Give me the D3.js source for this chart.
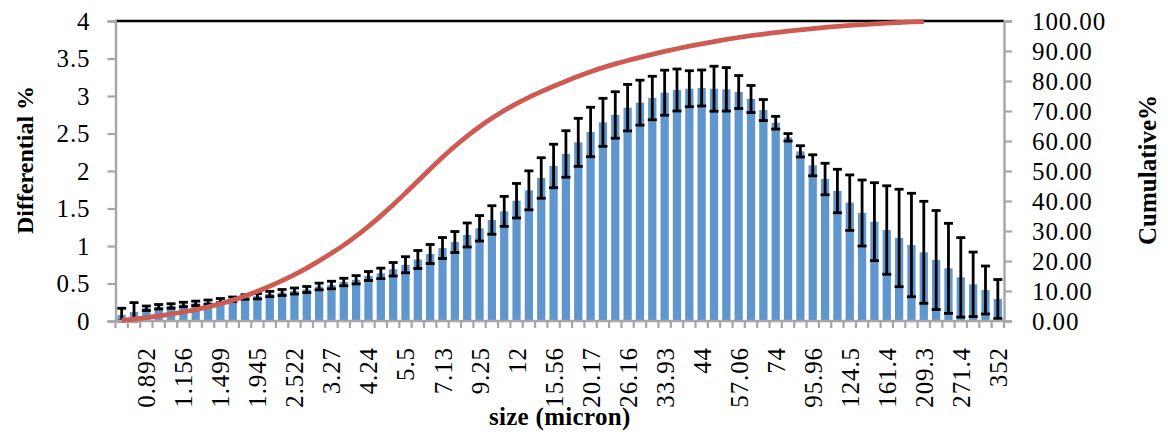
<!DOCTYPE html>
<html>
<head>
<meta charset="utf-8">
<script src="https://cdn.jsdelivr.net/npm/d3@7"></script>
<style>
  html, body { margin: 0; padding: 0; background: #fff; }
  svg { display: block; }
  text { font-family: "Liberation Serif", "DejaVu Serif", serif; fill: #000; }
</style>
</head>
<body>
<svg id="chart" width="1168" height="445"></svg>
<script>
// Size classes shown on the axis (one label every third size class)
const sizeLabels = ["0.892", "1.156", "1.499", "1.945", "2.522", "3.27", "4.24", "5.5",
  "7.13", "9.25", "12", "15.56", "20.17", "26.16", "33.93", "44", "57.06", "74",
  "95.96", "124.5", "161.4", "209.3", "271.4", "352"];
const labelEvery = 3;
const firstLabelIndex = 2;

// Differential volume % per size class
const differential = [
  0.08, 0.12, 0.17, 0.19, 0.20, 0.22, 0.235, 0.25, 0.27, 0.29,
  0.32, 0.33, 0.36, 0.38, 0.40, 0.42, 0.46, 0.48, 0.52, 0.55,
  0.60, 0.635, 0.69, 0.75, 0.82, 0.893, 0.973, 1.053, 1.147, 1.236,
  1.347, 1.462, 1.604, 1.742, 1.907, 2.067, 2.227, 2.382, 2.52, 2.649,
  2.747, 2.844, 2.911, 2.973, 3.044, 3.08, 3.097, 3.107, 3.097, 3.089,
  3.053, 2.96, 2.813, 2.644, 2.449, 2.262, 2.076, 1.893, 1.733, 1.578,
  1.44, 1.324, 1.213, 1.107, 1.013, 0.916, 0.813, 0.702, 0.582, 0.489,
  0.413, 0.293];

// Standard deviation (error bar half-length) per size class
const deviation = [
  0.09, 0.125, 0.03, 0.03, 0.03, 0.03, 0.03, 0.03, 0.03, 0.03,
  0.03, 0.035, 0.035, 0.04, 0.04, 0.04, 0.045, 0.05, 0.05, 0.055,
  0.06, 0.07, 0.09, 0.107, 0.12, 0.127, 0.14, 0.14, 0.16, 0.17,
  0.19, 0.20, 0.23, 0.26, 0.27, 0.29, 0.31, 0.32, 0.33, 0.32,
  0.31, 0.31, 0.30, 0.29, 0.30, 0.28, 0.24, 0.24, 0.30, 0.29,
  0.22, 0.18, 0.14, 0.085, 0.05, 0.075, 0.14, 0.21, 0.29, 0.37,
  0.44, 0.52, 0.59, 0.65, 0.69, 0.68, 0.66, 0.60, 0.53, 0.43,
  0.32, 0.26];

// Cumulative volume % (the series stops once it has levelled off at the top)
const cumulative = [
  0.2, 0.65, 1.15, 1.7, 2.3, 3.0, 3.8, 4.7, 5.75, 6.95,
  8.35, 9.9, 11.6, 13.45, 15.45, 17.65, 20.05, 22.55, 25.3, 28.3,
  31.55, 35.05, 38.75, 42.65, 46.65, 50.65, 54.55, 58.25, 61.65, 64.75,
  67.55, 70.15, 72.45, 74.55, 76.45, 78.25, 79.95, 81.55, 83.05, 84.45,
  85.7, 86.85, 87.9, 88.9, 89.85, 90.75, 91.6, 92.4, 93.15, 93.85,
  94.5, 95.1, 95.65, 96.15, 96.62, 97.06, 97.47, 97.85, 98.2, 98.52,
  98.81, 99.07, 99.3, 99.5, 99.68, 99.8];

const leftTicks = [0, 0.5, 1, 1.5, 2, 2.5, 3, 3.5, 4];
const rightTicks = [0, 10, 20, 30, 40, 50, 60, 70, 80, 90, 100];

const svg = d3.select("#chart");
const plot = { left: 115.5, right: 1004, top: 21, bottom: 321 };

const categories = d3.range(differential.length);
const gap = 0.33;
const x = d3.scaleBand()
  .domain(categories)
  .range([plot.left, plot.right])
  .paddingInner(gap)
  .paddingOuter(gap / 2);
const step = x.step();
const cx = i => x(i) + x.bandwidth() / 2;

const yL = d3.scaleLinear().domain([0, 4]).range([plot.bottom, plot.top]);
const yR = d3.scaleLinear().domain([0, 100]).range([plot.bottom, plot.top]);

const axisGrey = "#a6a6a6";
const fontSize = 25;
const tickSpacing = "0.9px";

// Bars
svg.append("g").selectAll("rect")
  .data(differential)
  .join("rect")
  .attr("x", (d, i) => x(i))
  .attr("width", x.bandwidth())
  .attr("y", d => yL(d))
  .attr("height", d => yL(0) - yL(d))
  .attr("fill", "#6096ce");

// Error bars
const eb = svg.append("g").attr("stroke", "#000").attr("stroke-width", 2.8);
differential.forEach((d, i) => {
  const lo = Math.max(0, d - deviation[i]);
  const hi = d + deviation[i];
  const c = cx(i);
  eb.append("line").attr("x1", c).attr("x2", c).attr("y1", yL(lo)).attr("y2", yL(hi));
  eb.append("line").attr("x1", c - 4.5).attr("x2", c + 4.5).attr("y1", yL(lo)).attr("y2", yL(lo));
  eb.append("line").attr("x1", c - 4.5).attr("x2", c + 4.5).attr("y1", yL(hi)).attr("y2", yL(hi));
});

// Top border line of the plot
svg.append("line")
  .attr("x1", plot.left).attr("x2", plot.right)
  .attr("y1", yL(4)).attr("y2", yL(4))
  .attr("stroke", "#000").attr("stroke-width", 2.4);

// Left axis
const gL = svg.append("g").attr("transform", `translate(${plot.left},0)`)
  .call(d3.axisLeft(yL).tickValues(leftTicks).tickSize(8).tickPadding(17)
    .tickFormat(d => d3.format("")(d)));
gL.select(".domain").attr("stroke", axisGrey).attr("stroke-width", 2.4);
gL.selectAll(".tick line").attr("stroke", axisGrey).attr("stroke-width", 2.2);
gL.selectAll("text").attr("font-size", fontSize).attr("font-family", "Liberation Serif")
  .attr("letter-spacing", tickSpacing);

// Right axis
const gR = svg.append("g").attr("transform", `translate(${plot.right},0)`)
  .call(d3.axisRight(yR).tickValues(rightTicks).tickSize(8).tickPadding(20)
    .tickFormat(d3.format(".2f")));
gR.select(".domain").attr("stroke", axisGrey).attr("stroke-width", 2.4);
gR.selectAll(".tick line").attr("stroke", axisGrey).attr("stroke-width", 2.2);
gR.selectAll("text").attr("font-size", fontSize).attr("font-family", "Liberation Serif")
  .attr("letter-spacing", tickSpacing);

// Bottom axis: line, ticks at class boundaries, rotated labels every third class
const gB = svg.append("g");
gB.append("line")
  .attr("x1", plot.left - 1).attr("x2", plot.right + 1)
  .attr("y1", plot.bottom).attr("y2", plot.bottom)
  .attr("stroke", axisGrey).attr("stroke-width", 2.4);
gB.selectAll("line.tk")
  .data(d3.range(differential.length + 1))
  .join("line")
  .attr("class", "tk")
  .attr("x1", i => plot.left + i * step).attr("x2", i => plot.left + i * step)
  .attr("y1", plot.bottom).attr("y2", plot.bottom + 7)
  .attr("stroke", axisGrey).attr("stroke-width", 2.2);
gB.selectAll("text")
  .data(sizeLabels)
  .join("text")
  .attr("transform", (d, k) => `translate(${cx(firstLabelIndex + k * labelEvery)},347) rotate(-90)`)
  .attr("text-anchor", "end")
  .attr("dy", "0.36em")
  .attr("font-size", fontSize)
  .attr("letter-spacing", tickSpacing)
  .text(d => d);

// Cumulative curve on the right axis
const line = d3.line()
  .x((d, i) => cx(i))
  .y(d => yR(d))
  .curve(d3.curveMonotoneX);
svg.append("path")
  .datum(cumulative)
  .attr("d", line)
  .attr("fill", "none")
  .attr("stroke", "#cd5b54")
  .attr("stroke-width", 4.8);

// Axis titles
svg.append("text")
  .attr("transform", "translate(25,160) rotate(-90)")
  .attr("text-anchor", "middle").attr("dy", "0.35em")
  .attr("font-size", 24).attr("font-weight", "bold")
  .text("Differential %");
svg.append("text")
  .attr("transform", "translate(1147,170) rotate(-90)")
  .attr("text-anchor", "middle").attr("dy", "0.35em")
  .attr("font-size", 25).attr("font-weight", "bold")
  .text("Cumulative%");
svg.append("text")
  .attr("x", (plot.left + plot.right) / 2).attr("y", 425)
  .attr("text-anchor", "middle")
  .attr("font-size", 25).attr("font-weight", "bold")
  .attr("letter-spacing", "0.3px")
  .text("size (micron)");
</script>
</body>
</html>
